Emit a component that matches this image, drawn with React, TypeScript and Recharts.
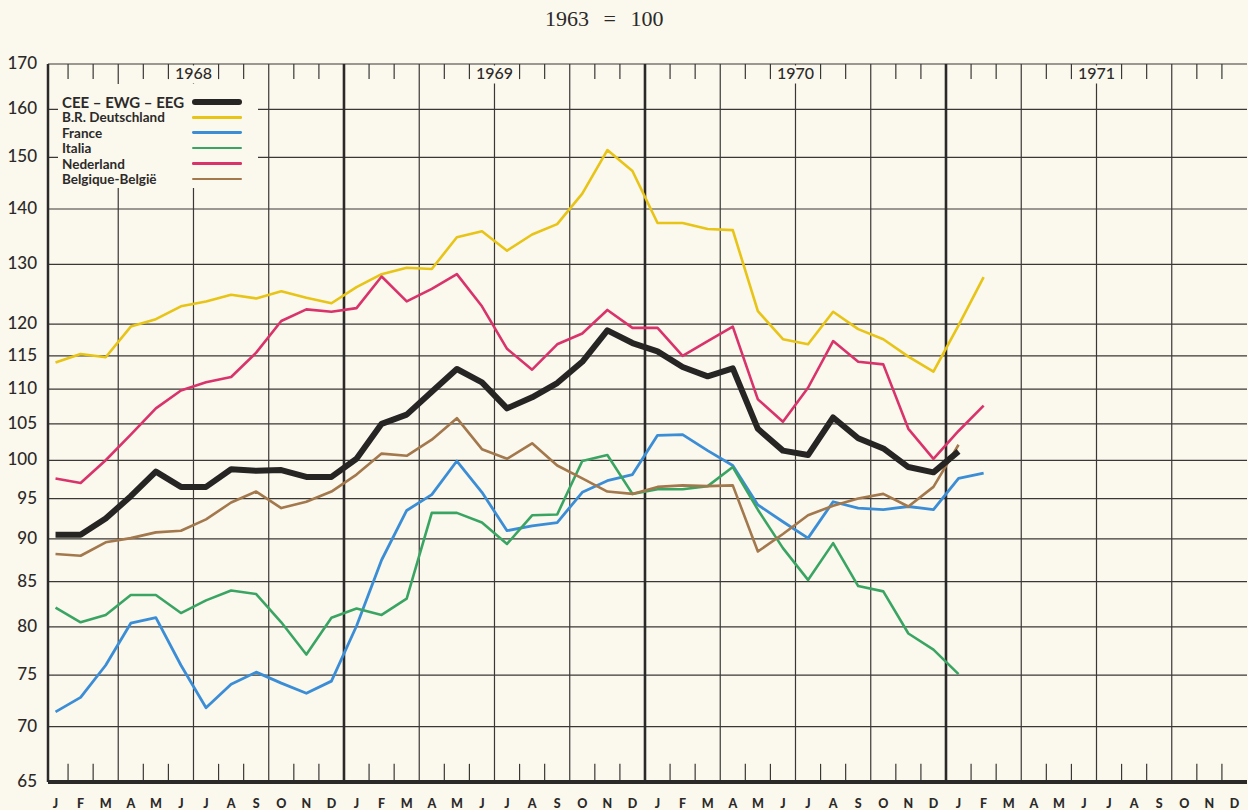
import React from 'react'
import {
  LineChart, Line, XAxis, YAxis, CartesianGrid, ReferenceLine, Legend,
} from 'recharts'

// index 1963 = 100, monthly, Jan 1968 onwards
const YEARS = ['1968', '1969', '1970', '1971']
const MONTH_LETTERS = ['J', 'F', 'M', 'A', 'M', 'J', 'J', 'A', 'S', 'O', 'N', 'D']
const Y_TICKS = [65, 70, 75, 80, 85, 90, 95, 100, 105, 110, 115, 120, 130, 140, 150, 160, 170]

const cee = [
  90.5, 90.5, 92.5, 95.3, 98.5, 96.5, 96.5, 98.8, 98.6, 98.7, 97.8, 97.8,
  100.2, 105, 106.3, 109.6, 113, 111, 107.2, 108.8, 110.9, 114.1, 119, 117,
  115.7, 113.3, 111.9, 113.1, 104.3, 101.3, 100.7, 105.9, 103.0, 101.6, 99.1, 98.4,
  101.2,
]
const deutschland = [
  114.0, 115.3, 114.8, 119.6, 120.8, 122.9, 123.7, 124.8, 124.2, 125.4, 124.3, 123.4,
  126.1, 128.3, 129.4, 129.2, 134.8, 135.9, 132.4, 135.3, 137.2, 142.9, 151.5, 147.3,
  137.4, 137.4, 136.3, 136.1, 122.1, 117.6, 116.8, 122.0, 119.2, 117.6, 114.9, 112.6,
  119.8, 127.8,
]
const france = [
  71.4, 72.8, 76.0, 80.4, 81.0, 76.0, 71.8, 74.1, 75.3, 74.2, 73.2, 74.4,
  80.1, 87.5, 93.5, 95.5, 99.9, 95.8, 91.0, 91.6, 92.0, 95.8, 97.3, 98.1,
  103.4, 103.5, 101.3, 99.3, 94.2, 92.1, 90.1, 94.6, 93.8, 93.6, 94.0, 93.6,
  97.6, 98.3,
]
const italia = [
  82.1, 80.5, 81.3, 83.5, 83.5, 81.5, 82.9, 84.0, 83.6, 80.5, 77.1, 81.0,
  82.0, 81.3, 83.1, 93.2, 93.2, 92.0, 89.4, 92.9, 93.0, 99.9, 100.7, 95.6,
  96.2, 96.2, 96.6, 99.1, 93.6, 88.9, 85.2, 89.5, 84.5, 83.9, 79.3, 77.6,
  75.1,
]
const nederland = [
  97.6, 97.0, 100.0, 103.5, 107.2, 109.8, 111.0, 111.8, 115.5, 120.5, 122.4, 122.0,
  122.6, 127.9, 123.7, 125.8, 128.3, 122.9, 116.1, 112.9, 116.8, 118.5, 122.3, 119.4,
  119.4, 115.0, 117.3, 119.6, 108.5, 105.3, 110.2, 117.3, 114.1, 113.7, 104.3, 100.2,
  104.0, 107.6,
]
const belgique = [
  88.2, 88.0, 89.6, 90.1, 90.8, 91.0, 92.4, 94.5, 95.9, 93.8, 94.6, 95.9,
  98.1, 100.9, 100.6, 102.8, 105.8, 101.5, 100.2, 102.3, 99.3, 97.6, 95.9, 95.6,
  96.5, 96.7, 96.6, 96.7, 88.5, 90.6, 92.9, 94.1, 95.0, 95.6, 94.0, 96.5,
  102.1,
]

const PAPER = '#fbf8ee'
const GRID = '#3a3835'
const INK = '#2b2a28'

const SERIES = [
  { key: 'cee', name: 'CEE – EWG – EEG', color: '#262524', width: 6, values: cee },
  { key: 'de', name: 'B.R. Deutschland', color: '#e7c416', width: 2.6, values: deutschland },
  { key: 'fr', name: 'France', color: '#3b8ed6', width: 2.8, values: france },
  { key: 'it', name: 'Italia', color: '#3aa563', width: 2.6, values: italia },
  { key: 'nl', name: 'Nederland', color: '#d9336b', width: 2.6, values: nederland },
  { key: 'be', name: 'Belgique-België', color: '#a2784c', width: 2.6, values: belgique },
]

const months = Math.max(...SERIES.map((s) => s.values.length))
const rows = Array.from({ length: months }, (_, i) => {
  const row: Record<string, number | null> = { x: i + 0.5 }
  SERIES.forEach((s) => { row[s.key] = s.values[i] ?? null })
  return row
})

const monthCenters = Array.from({ length: 48 }, (_, i) => i + 0.5)
const monthTicks = Array.from({ length: 47 }, (_, i) => i + 1).filter((m) => m % 3 !== 0)
const quarterLines = [3, 9, 15, 21, 27, 33, 39, 45]
const yearLines = [12, 24, 36]
const midYears = YEARS.map((_, i) => i * 12 + 6)

const MonthTick = ({ x, payload }: any) => (
  <text x={x} y={808} textAnchor="middle" fontFamily="Lato" fontWeight={900}
    fontSize={12.5} fill={INK}>
    {MONTH_LETTERS[Math.floor(payload.value) % 12]}
  </text>
)

const ValueTick = ({ y, payload }: any) => (
  <text x={37} y={y} dy={5} textAnchor="end" fontFamily="Lato" fontWeight={500}
    fontSize={17} fill={INK}>
    {payload.value}
  </text>
)

const yearLabel = (year: string) => ({ viewBox }: any) => (
  <g>
    <rect x={viewBox.x - 22} y={viewBox.y + 1.5} width={44} height={18} fill={PAPER} />
    <text x={viewBox.x} y={viewBox.y + 15} textAnchor="middle" fontFamily="Lato"
      fontWeight={500} fontSize={16} fill={INK}>{year}</text>
  </g>
)

const LegendBox = () => (
  <div style={{
    width: 200, height: 104, background: PAPER, position: 'relative',
    fontFamily: 'Lato', fontWeight: 700, color: INK,
  }}>
    {SERIES.map((s, i) => (
      <React.Fragment key={s.key}>
        <div style={{
          position: 'absolute', left: 4, top: 10 + i * 15.4, lineHeight: '16px',
          fontSize: i === 0 ? 15 : 13.5, whiteSpace: 'nowrap',
        }}>{s.name}</div>
        <div style={{
          position: 'absolute', left: 134, top: 18 + i * 15.4 - s.width / 2,
          width: 50, height: s.width, background: s.color, borderRadius: s.width / 2,
        }} />
      </React.Fragment>
    ))}
  </div>
)

export default function App() {
  return (
    <div style={{ position: 'absolute', left: 0, top: 0, width: 1248, height: 810, background: PAPER }}>
      <div style={{
        position: 'absolute', left: 545, top: 6, fontFamily: 'Liberation Serif',
        fontSize: 22, color: INK, wordSpacing: 9,
      }}>1963 = 100</div>
      <LineChart width={1248} height={810} data={rows}
        margin={{ top: 64, right: 1, bottom: 0, left: 0 }}>
        <CartesianGrid vertical={false} stroke={GRID} strokeWidth={1.2} />
        <XAxis dataKey="x" type="number" domain={[0.2, 48]} allowDataOverflow
          ticks={monthCenters} interval={0} height={28} tick={MonthTick}
          tickLine={false} axisLine={{ stroke: INK, strokeWidth: 4 }} />
        <YAxis type="number" scale="log" domain={[65, 170]} allowDataOverflow
          ticks={Y_TICKS} interval={0} width={48} tick={ValueTick}
          tickLine={false} axisLine={{ stroke: INK, strokeWidth: 2.5 }} />
        {quarterLines.map((m) => (
          <ReferenceLine key={`q${m}`} x={m} stroke={GRID} strokeWidth={1.2} />
        ))}
        {midYears.map((m, i) => (
          <ReferenceLine key={`h${m}`} x={m} stroke={GRID} strokeWidth={1.2}
            label={yearLabel(YEARS[i])} />
        ))}
        {yearLines.map((m) => (
          <ReferenceLine key={`y${m}`} x={m} stroke={INK} strokeWidth={2.6} />
        ))}
        {monthTicks.map((m) => (
          <ReferenceLine key={`t${m}`} segment={[{ x: m, y: 170 }, { x: m, y: 166.6 }]}
            stroke={GRID} strokeWidth={1.2} />
        ))}
        {monthTicks.map((m) => (
          <ReferenceLine key={`b${m}`} segment={[{ x: m, y: 65 }, { x: m, y: 66.6 }]}
            stroke={GRID} strokeWidth={1.2} />
        ))}
        <Legend layout="vertical" align="center" verticalAlign="middle"
          width={200} height={104} content={LegendBox}
          wrapperStyle={{ left: 58, top: 84, width: 200, height: 104 }} />
        {[...SERIES.slice(1), SERIES[0]].map((s) => (
          <Line key={s.key} dataKey={s.key} name={s.name} type="linear" stroke={s.color}
            strokeWidth={s.width} dot={false} activeDot={false} strokeLinejoin="round"
            isAnimationActive={false} />
        ))}
      </LineChart>
    </div>
  )
}
